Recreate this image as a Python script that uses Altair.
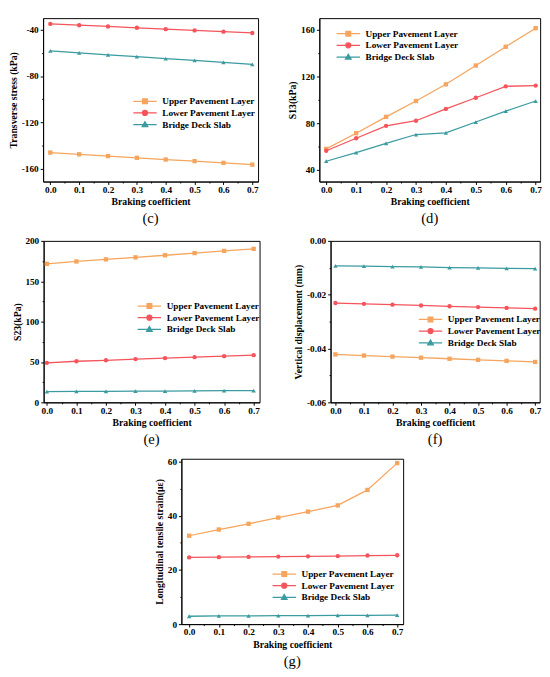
import altair as alt
import pandas as pd

# ---------------- data ----------------
braking = [0.0, 0.1, 0.2, 0.3, 0.4, 0.5, 0.6, 0.7]
series_names = ["Upper Pavement Layer", "Lower Pavement Layer", "Bridge Deck Slab"]
series_colors = ["#F6A55E", "#F5545B", "#3A9BA0"]
series_shapes = ["square", "circle", "triangle-up"]

# (c) Transverse stress (kPa)
c_upper = [-146.0, -147.5, -149.0, -150.5, -152.0, -153.4, -154.9, -156.4]
c_lower = [-35.0, -36.1, -37.2, -38.3, -39.5, -40.6, -41.7, -42.8]
c_bridge = [-58.2, -59.9, -61.6, -63.2, -64.9, -66.5, -68.2, -69.8]

# (d) S13 (kPa)
d_upper = [58.0, 71.4, 85.4, 99.0, 113.3, 129.4, 145.5, 161.4]
d_lower = [56.4, 67.1, 77.7, 82.1, 92.2, 101.8, 111.6, 112.2]
d_bridge = [47.4, 54.8, 62.7, 70.3, 71.7, 81.0, 90.3, 99.0]

# (e) S23 (kPa)
e_upper = [171.6, 174.5, 177.1, 179.6, 182.2, 184.9, 187.6, 190.1]
e_lower = [48.9, 50.9, 52.1, 53.6, 54.8, 56.0, 57.2, 58.4]
e_bridge = [13.4, 13.5, 13.7, 13.8, 14.0, 14.2, 14.4, 14.6]

# (f) Vertical displacement (mm)
f_upper = [-0.0422, -0.0426, -0.0430, -0.0434, -0.0438, -0.0442, -0.0446, -0.0450]
f_lower = [-0.0231, -0.0234, -0.0237, -0.0240, -0.0243, -0.0246, -0.0249, -0.0252]
f_bridge = [-0.0093, -0.0094, -0.0096, -0.0097, -0.0099, -0.0100, -0.0102, -0.0103]

# (g) Longitudinal tensile strain (με)
g_upper = [32.6, 34.9, 37.0, 39.3, 41.5, 43.8, 49.5, 59.4]
g_lower = [24.6, 24.7, 24.8, 24.9, 25.0, 25.1, 25.3, 25.4]
g_bridge = [2.9, 3.0, 3.0, 3.1, 3.1, 3.2, 3.2, 3.3]

x_ticks = [0.0, 0.05, 0.1, 0.15, 0.2, 0.25, 0.3, 0.35, 0.4, 0.45, 0.5, 0.55, 0.6, 0.65, 0.7]

FONT = "Liberation Serif"
LEG_FS = 9.5

# legend symbols: line segment with marker
legend_paths = [
    "M-4,0H4M-0.8,-0.8H0.8V0.8H-0.8Z",
    "M-4,0H4M-0.85,0A0.85,0.85 0 1,0 0.85,0A0.85,0.85 0 1,0 -0.85,0Z",
    "M-4,0H4M0,-0.95L0.95,0.7H-0.95Z",
]


def long_df(upper, lower, bridge):
    rows = []
    for name, vals in zip(series_names, [upper, lower, bridge]):
        for xv, yv in zip(braking, vals):
            rows.append({"x": xv, "value": yv, "series": name})
    return pd.DataFrame(rows)


def panel(df, ytitle, ydomain, ymajor, yminor, yfmt, xdomain, width, height,
          lx, ly, caption):
    xs = alt.Scale(domain=xdomain, nice=False, zero=False)
    ys = alt.Scale(domain=ydomain, nice=False, zero=False)
    cs = alt.Scale(domain=series_names, range=series_colors)
    base = alt.Chart(df)

    x_major_test = "abs(round(datum.value * 20) % 2) == 0"
    major_x = alt.Axis(
        values=x_ticks, format=".1f", title="Braking coefficient", orient="bottom",
        tickSize={"condition": {"test": x_major_test, "value": 3}, "value": 1.5},
        labelExpr="abs(round(datum.value * 20) % 2) == 0 ? datum.label : ''",
        labelFlush=False, labelOverlap=False, labelPadding=0,
        titleY=21, titleBaseline="middle",
    )
    ymaj = "[" + ",".join(repr(v) for v in ymajor) + "]"
    y_major_test = "indexof(" + ymaj + ", datum.value) >= 0"
    major_y = alt.Axis(
        values=sorted(ymajor + yminor), format=yfmt, title=ytitle, orient="left",
        tickSize={"condition": {"test": y_major_test, "value": 3}, "value": 1.5},
        labelExpr=y_major_test + " ? replace(datum.label, '\u2212', '-') : ''",
        labelOverlap=False,
    )

    layers = []
    for i, (name, col, shp) in enumerate(zip(series_names, series_colors, series_shapes)):
        sub = base.transform_filter(alt.datum.series == name)
        layers.append(
            sub.mark_line(strokeWidth=1.3, color=col).encode(
                x=alt.X("x:Q", scale=xs, axis=major_x if i == 0 else None),
                y=alt.Y("value:Q", scale=ys, axis=major_y if i == 0 else None),
            )
        )
        layers.append(
            sub.mark_point(filled=True, size=20, opacity=1, shape=shp, color=col)
            .encode(
                x=alt.X("x:Q", scale=xs, axis=None),
                y=alt.Y("value:Q", scale=ys, axis=None),
            )
        )
    leg_def = alt.Legend(title=None, orient="none", legendX=lx, legendY=ly,
                         labelFont=FONT, labelFontSize=LEG_FS, labelFontWeight="bold",
                         labelColor="black", symbolSize=36, labelOffset=13,
                         rowPadding=1, padding=0, symbolStrokeWidth=1.3,
                         labelLimit=200)
    layers.append(
        base.transform_filter("false").mark_point(
            filled=True, size=36, opacity=1, strokeWidth=1.3).encode(
            x=alt.X("x:Q", scale=xs, axis=None),
            y=alt.Y("value:Q", scale=ys, axis=None),
            fill=alt.Fill("series:N", scale=cs, legend=leg_def),
            stroke=alt.Stroke("series:N", scale=cs, legend=leg_def),
            shape=alt.Shape("series:N",
                            scale=alt.Scale(domain=series_names, range=legend_paths),
                            legend=leg_def),
        )
    )
    return alt.layer(*layers).resolve_axis(x="independent", y="independent").properties(
        width=width, height=height,
        title=alt.TitleParams(caption, orient="bottom", font=FONT, fontSize=15,
                              fontWeight="normal", color="black", offset=5),
    )


pc = panel(long_df(c_upper, c_lower, c_bridge), "Transverse stress (kPa)",
           [-171, -30], [-160, -120, -80, -40], [-140, -100, -60], "d",
           [-0.025, 0.72], 221, 168, 100, 80.75, "(c)")
pd_ = panel(long_df(d_upper, d_lower, d_bridge), "S13(kPa)",
            [30, 170], [40, 80, 120, 160], [60, 100, 140], "d",
            [-0.023, 0.715], 227, 168, 25, 11.25, "(d)")
pe = panel(long_df(e_upper, e_lower, e_bridge), "S23(kPa)",
           [0, 200], [0, 50, 100, 150, 200], [25, 75, 125, 175], "d",
           [-0.011, 0.72], 222, 166, 104, 62.25, "(e)")
pf = panel(long_df(f_upper, f_lower, f_bridge), "Vertical displacement (mm)",
           [-0.06, 0], [-0.06, -0.04, -0.02, 0.0], [-0.05, -0.03, -0.01], ".2f",
           [-0.017, 0.716], 215, 166, 98, 76, "(f)")
pg = panel(long_df(g_upper, g_lower, g_bridge), "Longitudinal tensile strain(με)",
           [0, 61], [0, 20, 40, 60], [10, 30, 50], "d",
           [-0.026, 0.72], 228, 170, 101, 113.75, "(g)")

indep = dict(fill="independent", stroke="independent", shape="independent")
row1 = alt.hconcat(pc, pd_, spacing=29).resolve_scale(**indep)
row2 = alt.hconcat(pe, pf, spacing=33).resolve_scale(**indep)

chart = alt.vconcat(row1, row2, pg, spacing=8, center=True).resolve_scale(
    **indep
).properties(
    padding=0
).configure_view(
    stroke="black", strokeWidth=1
).configure_axis(
    labelFont=FONT, labelFontSize=9.5, labelFontWeight="bold", labelColor="black",
    titleFont=FONT, titleFontSize=10, titleFontWeight="bold", titleColor="black",
    domainColor="black", domainWidth=1, tickColor="black", tickWidth=1,
    grid=False, labelPadding=2, titlePadding=2,
).configure_axisY(titlePadding=3).configure_legend(
    labelFont=FONT, labelFontSize=LEG_FS, labelFontWeight="bold", labelColor="black",
    labelLimit=200,
)

chart.save("out.html", embed_options={"renderer": "svg", "actions": False})
